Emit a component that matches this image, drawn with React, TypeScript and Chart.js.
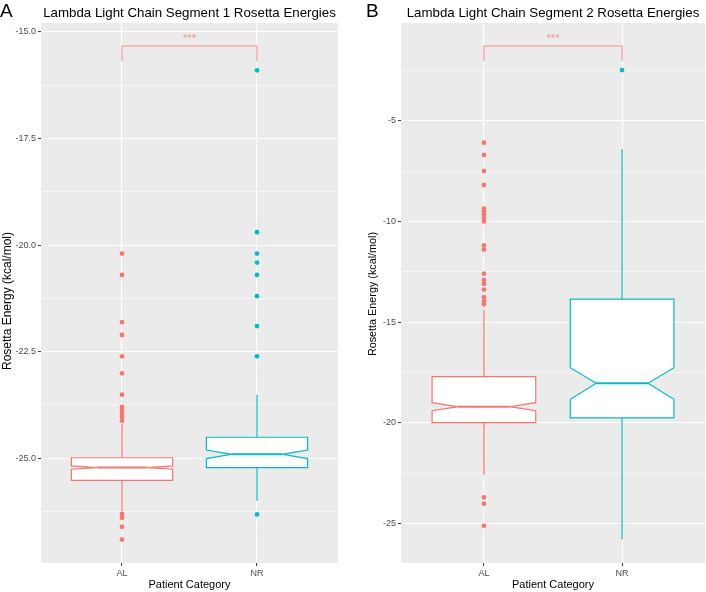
import React, { useEffect, useRef } from 'react';
import { Chart, registerables } from 'chart.js';

Chart.register(...registerables);

// ---------- shared ----------
const categories = ['AL', 'NR'];
const categoryPositions = [1, 2];
const categoryColors = ['#F8766D', '#00BFC4'];
const xAxisTitle = 'Patient Category';
const yAxisTitle = 'Rosetta Energy (kcal/mol)';
const significanceLabel = '***';

// ---------- panel A : segment 1 ----------
const seg1Title = 'Lambda Light Chain Segment 1 Rosetta Energies';
const seg1Letter = 'A';
const seg1LowerWhisker = [-26.24, -26.0];
const seg1Q1 = [-25.52, -25.22];
const seg1NotchLow = [-25.26, -25.01];
const seg1Median = [-25.22, -24.91];
const seg1NotchHigh = [-25.18, -24.81];
const seg1Q3 = [-24.99, -24.51];
const seg1UpperWhisker = [-24.2, -23.51];
const seg1OutliersAL = [-20.2, -20.7, -21.81, -22.11, -22.61, -23.01, -23.51, -23.8, -23.87, -23.94, -24.03, -24.12, -26.31, -26.4, -26.61, -26.91];
const seg1OutliersNR = [-15.9, -19.7, -20.2, -20.41, -20.7, -21.2, -21.9, -22.61, -26.32];
const seg1MajorTicks = [-15, -17.5, -20, -22.5, -25];
const seg1MinorTicks = [-16.25, -18.75, -21.25, -23.75, -26.25];
const seg1YRange = [-27.46, -14.79];
const seg1Bracket = [-15.33, -15.68];
const seg1StarsY = -15.09;

// ---------- panel B : segment 2 ----------
const seg2Title = 'Lambda Light Chain Segment 2 Rosetta Energies';
const seg2Letter = 'B';
const seg2LowerWhisker = [-22.59, -25.79];
const seg2Q1 = [-19.99, -19.76];
const seg2NotchLow = [-19.4, -18.83];
const seg2Median = [-19.2, -18.04];
const seg2NotchHigh = [-19.0, -17.26];
const seg2Q3 = [-17.71, -13.85];
const seg2UpperWhisker = [-14.39, -6.4];
const seg2OutliersAL = [-6.08, -6.69, -7.49, -8.18, -9.36, -9.49, -9.64, -9.82, -9.99, -11.18, -11.39, -12.59, -12.9, -13.1, -13.38, -13.76, -13.95, -14.11, -23.71, -24.02, -25.12];
const seg2OutliersNR = [-2.47];
const seg2MajorTicks = [-5, -10, -15, -20, -25];
const seg2MinorTicks = [-2.5, -7.5, -12.5, -17.5, -22.5];
const seg2YRange = [-26.97, -0.13];
const seg2Bracket = [-1.27, -2.02];
const seg2StarsY = -0.78;

const FONT = "'Liberation Sans', Arial, Helvetica, sans-serif";

type Panel = {
  title: string;
  letter: string;
  lowerWhisker: number[];
  q1: number[];
  notchLow: number[];
  median: number[];
  notchHigh: number[];
  q3: number[];
  upperWhisker: number[];
  outliers: number[][];
  majorTicks: number[];
  minorTicks: number[];
  yRange: number[];
  bracket: number[];
  starsY: number;
  decimals: number;
  yAxisWidth: number;
  rightPad: number;
  yTitleX: number;
  yTitleY: number;
  yTitleSize: number;
  letterX: number;
};

const panels: Panel[] = [
  {
    title: seg1Title, letter: seg1Letter,
    lowerWhisker: seg1LowerWhisker, q1: seg1Q1, notchLow: seg1NotchLow, median: seg1Median,
    notchHigh: seg1NotchHigh, q3: seg1Q3, upperWhisker: seg1UpperWhisker,
    outliers: [seg1OutliersAL, seg1OutliersNR],
    majorTicks: seg1MajorTicks, minorTicks: seg1MinorTicks, yRange: seg1YRange,
    bracket: seg1Bracket, starsY: seg1StarsY, decimals: 1,
    yAxisWidth: 41, rightPad: 15, yTitleX: 7.5, yTitleY: 301, yTitleSize: 12, letterX: 0,
  },
  {
    title: seg2Title, letter: seg2Letter,
    lowerWhisker: seg2LowerWhisker, q1: seg2Q1, notchLow: seg2NotchLow, median: seg2Median,
    notchHigh: seg2NotchHigh, q3: seg2Q3, upperWhisker: seg2UpperWhisker,
    outliers: [seg2OutliersAL, seg2OutliersNR],
    majorTicks: seg2MajorTicks, minorTicks: seg2MinorTicks, yRange: seg2YRange,
    bracket: seg2Bracket, starsY: seg2StarsY, decimals: 0,
    yAxisWidth: 48, rightPad: 1, yTitleX: 20, yTitleY: 294, yTitleSize: 10.8, letterX: 13,
  },
];

const BOX_WIDTH = 0.75;
const NOTCH_WIDTH = 0.5;

function makePlugin(p: Panel) {
  return {
    id: 'ggbox',
    beforeDraw(chart: any) {
      const { ctx, chartArea: a } = chart;
      ctx.save();
      ctx.fillStyle = '#EBEBEB';
      ctx.fillRect(a.left, a.top, a.right - a.left, a.bottom - a.top);
      ctx.restore();
    },
    beforeDatasetsDraw(chart: any) {
      const { ctx } = chart;
      const xs = chart.scales.x;
      const ys = chart.scales.y;
      const unit = xs.getPixelForValue(1) - xs.getPixelForValue(0);
      const hw = (unit * BOX_WIDTH) / 2;
      const nw = hw * NOTCH_WIDTH;
      ctx.save();
      for (let i = 0; i < categories.length; i++) {
        const cx = xs.getPixelForValue(categoryPositions[i]);
        const yLW = ys.getPixelForValue(p.lowerWhisker[i]);
        const yQ1 = ys.getPixelForValue(p.q1[i]);
        const yNL = ys.getPixelForValue(p.notchLow[i]);
        const yMed = ys.getPixelForValue(p.median[i]);
        const yNH = ys.getPixelForValue(p.notchHigh[i]);
        const yQ3 = ys.getPixelForValue(p.q3[i]);
        const yUW = ys.getPixelForValue(p.upperWhisker[i]);
        ctx.strokeStyle = categoryColors[i];
        ctx.lineWidth = 1.2;
        ctx.lineJoin = 'miter';
        ctx.beginPath();
        ctx.moveTo(cx, yUW);
        ctx.lineTo(cx, yQ3);
        ctx.moveTo(cx, yQ1);
        ctx.lineTo(cx, yLW);
        ctx.stroke();
        ctx.beginPath();
        ctx.moveTo(cx - hw, yQ3);
        ctx.lineTo(cx + hw, yQ3);
        ctx.lineTo(cx + hw, yNH);
        ctx.lineTo(cx + nw, yMed);
        ctx.lineTo(cx + hw, yNL);
        ctx.lineTo(cx + hw, yQ1);
        ctx.lineTo(cx - hw, yQ1);
        ctx.lineTo(cx - hw, yNL);
        ctx.lineTo(cx - nw, yMed);
        ctx.lineTo(cx - hw, yNH);
        ctx.closePath();
        ctx.fillStyle = '#FFFFFF';
        ctx.fill();
        ctx.stroke();
        ctx.lineWidth = 2;
        ctx.beginPath();
        ctx.moveTo(cx - nw, yMed);
        ctx.lineTo(cx + nw, yMed);
        ctx.stroke();
      }
      ctx.restore();
    },
    afterDatasetsDraw(chart: any) {
      const { ctx } = chart;
      const xs = chart.scales.x;
      const ys = chart.scales.y;
      const x1 = xs.getPixelForValue(categoryPositions[0]);
      const x2 = xs.getPixelForValue(categoryPositions[1]);
      const yTop = ys.getPixelForValue(p.bracket[0]);
      const yLeg = ys.getPixelForValue(p.bracket[1]);
      ctx.save();
      ctx.strokeStyle = '#F59089';
      ctx.lineWidth = 1.1;
      ctx.beginPath();
      ctx.moveTo(x1, yLeg);
      ctx.lineTo(x1, yTop);
      ctx.lineTo(x2, yTop);
      ctx.lineTo(x2, yLeg);
      ctx.stroke();
      ctx.fillStyle = '#F59089';
      ctx.font = `11px ${FONT}`;
      ctx.textAlign = 'center';
      ctx.textBaseline = 'alphabetic';
      ctx.fillText(significanceLabel, (x1 + x2) / 2, ys.getPixelForValue(p.starsY) + 6.3);
      ctx.restore();
    },
    afterDraw(chart: any) {
      const { ctx, chartArea: a } = chart;
      const cxm = (a.left + a.right) / 2;
      ctx.save();
      ctx.fillStyle = '#000000';
      ctx.textBaseline = 'alphabetic';
      ctx.textAlign = 'center';
      ctx.font = `13.3px ${FONT}`;
      ctx.fillText(p.title, cxm, 16.5);
      ctx.textAlign = 'left';
      ctx.font = `19px ${FONT}`;
      ctx.fillText(p.letter, p.letterX, 17);
      ctx.textAlign = 'center';
      ctx.textBaseline = 'middle';
      ctx.font = `11px ${FONT}`;
      ctx.fillText(xAxisTitle, cxm, 585);
      ctx.font = `${p.yTitleSize}px ${FONT}`;
      ctx.translate(p.yTitleX, p.yTitleY);
      ctx.rotate(-Math.PI / 2);
      ctx.fillText(yAxisTitle, 0, 0);
      ctx.restore();
    },
  };
}

function PanelChart({ panel }: { panel: Panel }) {
  const ref = useRef<HTMLCanvasElement | null>(null);
  useEffect(() => {
    if (!ref.current) return;
    const allTicks = [...panel.majorTicks, ...panel.minorTicks].sort((a, b) => a - b);
    const isMajor = (v: number) => panel.majorTicks.includes(v);
    const chart = new Chart(ref.current, {
      type: 'scatter',
      data: {
        datasets: categories.map((c, i) => ({
          label: c,
          data: panel.outliers[i].map((v) => ({ x: categoryPositions[i], y: v })),
          backgroundColor: categoryColors[i],
          borderWidth: 0,
          pointRadius: 2.4,
          pointHoverRadius: 2.4,
        })),
      },
      options: {
        animation: false,
        responsive: false,
        devicePixelRatio: 1,
        events: [],
        layout: { autoPadding: false, padding: { top: 23, right: panel.rightPad, bottom: 0, left: 0 } },
        plugins: { legend: { display: false }, tooltip: { enabled: false }, title: { display: false } },
        scales: {
          x: {
            type: 'linear',
            min: 0.4,
            max: 2.6,
            afterBuildTicks: (s: any) => {
              s.ticks = categoryPositions.map((v) => ({ value: v }));
            },
            afterFit: (s: any) => {
              s.height = 29;
            },
            ticks: {
              callback: (v: any) => {
                const k = categoryPositions.indexOf(Number(v));
                return k >= 0 ? categories[k] : '';
              },
              color: '#4D4D4D',
              font: { size: 9, family: FONT },
              padding: 2,
              maxRotation: 0,
              autoSkip: false,
            },
            grid: { color: '#FFFFFF', lineWidth: 1.1, tickLength: 3, tickColor: '#333333', tickWidth: 1 },
            border: { display: false },
          },
          y: {
            type: 'linear',
            min: panel.yRange[0],
            max: panel.yRange[1],
            afterBuildTicks: (s: any) => {
              s.ticks = allTicks.map((v) => ({ value: v }));
            },
            afterFit: (s: any) => {
              s.width = panel.yAxisWidth;
            },
            ticks: {
              callback: (v: any) => (isMajor(Number(v)) ? Number(v).toFixed(panel.decimals) : ''),
              color: '#4D4D4D',
              font: { size: 9, family: FONT },
              padding: 2,
              autoSkip: false,
            },
            grid: {
              color: '#FFFFFF',
              lineWidth: (c: any) => (c.tick && isMajor(c.tick.value) ? 1.1 : 0.55),
              tickLength: 3,
              tickColor: (c: any) => (c.tick && isMajor(c.tick.value) ? '#333333' : 'rgba(0,0,0,0)'),
              tickWidth: 1,
            },
            border: { display: false },
          },
        },
      },
      plugins: [makePlugin(panel)],
    } as any);
    return () => chart.destroy();
  }, [panel]);
  return <canvas ref={ref} width={353} height={592} style={{ display: 'block', width: 353, height: 592 }} />;
}

export default function App() {
  return (
    <div style={{ position: 'absolute', left: 0, top: 0, width: 706, height: 592, display: 'flex', background: '#FFFFFF' }}>
      {panels.map((p) => (
        <PanelChart key={p.letter} panel={p} />
      ))}
    </div>
  );
}
